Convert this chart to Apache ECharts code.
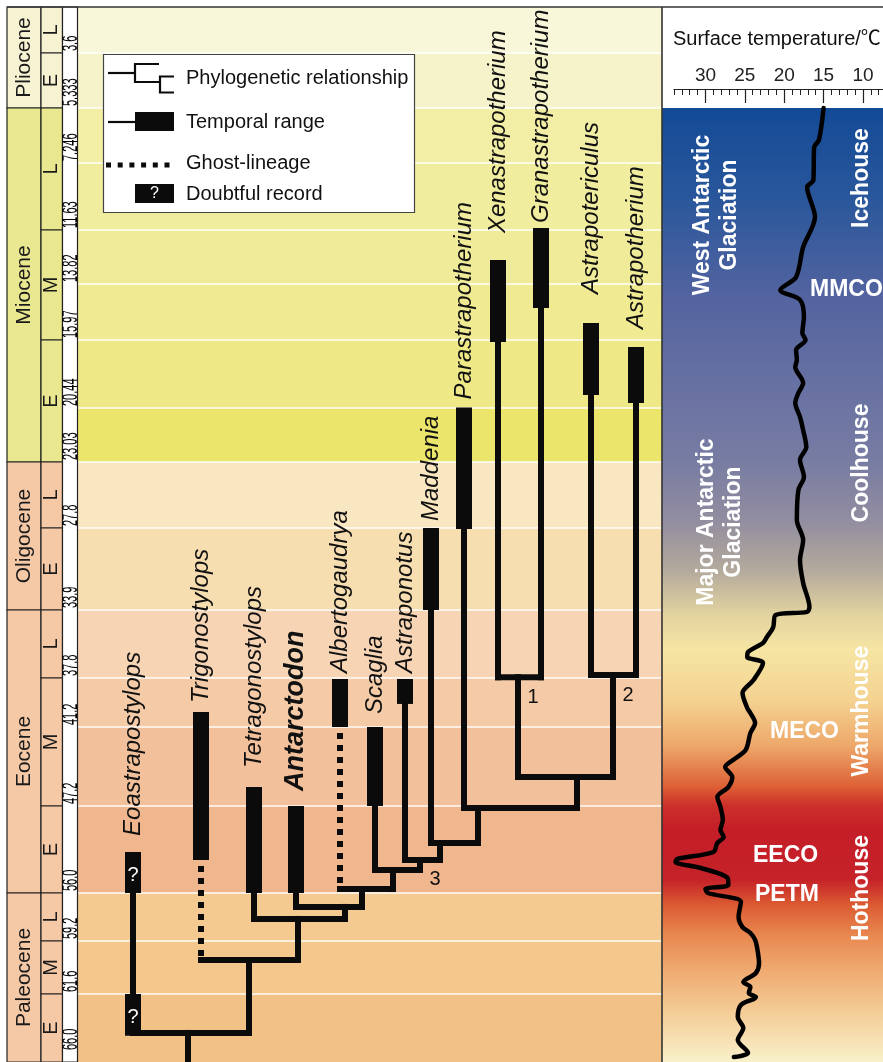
<!DOCTYPE html>
<html><head><meta charset="utf-8">
<script src="https://cdn.jsdelivr.net/npm/echarts@6/dist/echarts.min.js"></script>
<style>html,body{margin:0;padding:0;background:#fff;overflow:hidden}#chart{width:883px;height:1062px}</style>
</head><body><div id="chart"></div>
<script>
// ================= DATA =================
// Geological time scale (Ma)
const stageBoundaries = [2.58, 3.6, 5.333, 7.246, 11.63, 13.82, 15.97, 20.44, 23.03, 27.8, 33.9, 37.8, 41.2, 47.2, 56.0, 59.2, 61.6, 66.0];
const boundaryLabels = ['3.6','5.333','7.246','11.63','13.82','15.97','20.44','23.03','27.8','33.9','37.8','41.2','47.2','56.0','59.2','61.6','66.0'];
const epochNames = ['Pliocene','Miocene','Oligocene','Eocene','Paleocene'];
const epochTop  = [2.58, 5.333, 23.03, 33.9, 56.0];
const epochBase = [5.333, 23.03, 33.9, 56.0, 66.0];
const subEpochNames = ['L','E','L','M','E','L','E','L','M','E','L','M','E'];
const subEpochTop  = [2.58, 3.6, 5.333, 11.63, 15.97, 23.03, 27.8, 33.9, 37.8, 47.2, 56.0, 59.2, 61.6];
const subEpochBase = [3.6, 5.333, 11.63, 15.97, 23.03, 27.8, 33.9, 37.8, 47.2, 56.0, 59.2, 61.6, 66.0];
const subEpochEpoch = [0,0,1,1,1,2,2,3,3,3,4,4,4];

// Taxa and temporal ranges (Ma)
const taxa = ['Eoastrapostylops','Trigonostylops','Tetragonostylops','Antarctodon','Albertogaudrya','Scaglia','Astraponotus','Maddenia','Parastrapotherium','Xenastrapotherium','Granastrapotherium','Astrapotericulus','Astrapotherium'];
const rangeYoung = [null, 40.16, 45.75, 47.2, 37.87, 41.2, 37.87, 27.8, 20.4, 12.85, 11.5, 15.32, 16.43];
const rangeOld   = [null, 52.66, 56.0, 56.0, 41.2, 47.2, 39.6, 33.9, 27.87, 16.1, 14.74, 19.58, 20.11];
const taxonParent = ['root','A','B','C','D','E','F','G','H','N1','N1','N2','N2'];
const ghostLineage = [false, true, false, false, true, false, false, false, false, false, false, false, false];
const boldTaxon = 'Antarctodon';
// Doubtful records
const doubtfulTaxon = [0, 0];
const doubtfulYoung = [51.85, 61.6];
const doubtfulOld   = [56.0, 64.3];

// Internal nodes (divergence ages, Ma)
const nodeIds    = ['root','A','B','C','D','E','F','G','H','I','N1','N2'];
const nodeAges   = [64.12, 60.06, 57.73, 56.93, 55.6, 53.67, 52.66, 50.94, 47.4, 45.0, 37.75, 37.63];
const nodeParent = [null,'root','A','B','C','D','E','F','G','H','I','I'];
const nodeLabels = ['','','','','','','3','','','','1','2'];

// Surface temperature curve
const tempAge = [5.33, 6.45, 6.69, 8.36, 8.82, 10.78, 12.32, 13.54, 14.05, 14.43,
  15.09, 15.70, 15.97, 16.63, 17.28, 17.74, 18.80, 19.45, 20.11, 20.87,
  21.50, 22.31, 22.93, 24.11, 25.05, 27.22, 28.69, 30.18, 31.89, 33.68,
  34.01, 34.19, 34.88, 35.45, 35.79, 36.31, 36.59, 36.94, 37.94, 38.84,
  39.88, 40.23, 40.92, 41.66, 42.95, 43.71, 44.24, 45.00, 45.76, 46.52,
  47.30, 48.62, 49.63, 50.33, 50.94, 51.85, 52.56, 52.86, 53.47, 54.48,
  55.19, 55.60, 56.00, 56.60, 57.60, 58.27, 58.67, 59.13, 59.60, 60.20,
  60.65, 61.06, 61.28, 61.55, 61.80, 62.31, 63.09, 63.80, 64.57, 65.41, 65.68];
const tempValue = [15.0, 15.6, 16.2, 16.3, 17.1, 16.1, 17.6, 18.5, 20.5, 18.0,
  17.5, 17.7, 17.3, 18.5, 18.4, 18.6, 17.6, 18.2, 18.6, 18.0,
  17.6, 17.2, 18.0, 17.5, 18.2, 18.4, 17.6, 18.0, 17.6, 16.8,
  17.1, 21.1, 21.4, 22.2, 22.7, 24.6, 24.7, 22.7, 23.9, 25.3,
  24.7, 24.3, 23.7, 24.3, 24.9, 26.5, 27.5, 26.6, 27.1, 28.5,
  28.1, 27.8, 28.1, 27.7, 28.5, 29.0, 33.6, 33.8, 30.6, 27.2,
  27.1, 30.0, 29.7, 25.5, 25.8, 25.3, 24.3, 23.7, 23.4, 23.2,
  23.6, 25.2, 24.3, 24.5, 23.6, 25.5, 25.9, 25.2, 25.9, 24.6, 26.4];
const tempTicks = [30, 25, 20, 15, 10];
const tempMinorTicks = [8, 9, 10, 11, 12, 13, 14, 15, 16, 17, 18, 19, 20, 21, 22, 23, 24, 25, 26, 27, 28, 29, 30, 31, 32, 33, 34];

// Climate annotations
const climateEvents = ['MMCO','MECO','EECO','PETM'];
const climateEventAge = [14.05, 41.58, 52.26, 56.13];
const climateStates = ['Icehouse','Coolhouse','Warmhouse','Hothouse'];
const climateStateAge = [8.23, 23.1, 40.1, 55.5];
const glaciations = ['West Antarctic\nGlaciation','Major Antarctic\nGlaciation'];
const glaciationAge = [10.65, 27.37];

// Legend texts
const legendTexts = ['Phylogenetic relationship','Temporal range','Ghost-lineage','Doubtful record'];

// ================= LAYOUT / STYLE =================
const FONT = '"Liberation Sans", Arial, Helvetica, "Noto Sans CJK SC", sans-serif';
const INK = '#0b0b0b';
// figure's (non-linear) vertical scale: position of each stage boundary
const SCALE_POS = [0, 46, 101, 156, 223, 277, 333, 401, 455, 521, 603, 671, 720, 799, 886, 934, 987, 1055];
const STAGE_COLORS = ['#F9F7DA','#F6F3CB','#F2EEA6','#F1ED9F','#F0EB99','#F0EA93','#EEE887','#ECE56B',
  '#F8E7C0','#F7DEB0','#F6D4B4','#F5CAA6','#F2C09A','#F0B78F','#F4CA91','#F4C88C','#F2C186'];
const EPOCH_COLORS = ['#F7F3D2','#E9E78F','#F6C9A6','#F6C9A6','#F6C9A6'];
const COL_EPOCH = [0, 34], COL_SUB = [34, 55.5], COL_AGE = [55.5, 70.5], COL_TREE = [70.5, 655], COL_RIGHT = [655, 876];
const TAXON_X = [126, 194, 247, 289, 333, 368, 398, 424, 457, 491, 534, 584, 629];
const NODE_X  = [181, 242, 291, 338, 355, 386, 413, 433, 471, 570, 511, 606];
const LABEL_GAP = [16, 9, 19, 15, 6, 13, 6, 7, 8, 27, 5, 29, 18];
const EVENT_X = [803, 763, 746, 748];
const STATE_X = 855;
const GLAC_X = [709.5, 713];
const LINE_W = 6, BAR_W = 16;

function toPos(age) {
  const n = stageBoundaries.length;
  for (let i = 0; i < n - 1; i++) {
    if (age <= stageBoundaries[i + 1] || i === n - 2) {
      const t = (age - stageBoundaries[i]) / (stageBoundaries[i + 1] - stageBoundaries[i]);
      return SCALE_POS[i] + t * (SCALE_POS[i + 1] - SCALE_POS[i]);
    }
  }
}
function parentAge(pid) {
  return pid === null ? stageBoundaries[stageBoundaries.length - 1] : nodeAges[nodeIds.indexOf(pid)];
}
function childrenX(id) {
  const xs = [];
  taxonParent.forEach((p, i) => { if (p === id) xs.push(TAXON_X[i]); });
  nodeParent.forEach((p, i) => { if (p === id) xs.push(NODE_X[i]); });
  return xs;
}
function txt(text, x, y, o) {
  o = o || {};
  const align = o.align || 'center', va = o.va || 'middle';
  return {
    type: 'text', x: x, y: y, rotation: o.rot || 0, scaleX: o.sx || 1, scaleY: 1, z2: 10,
    style: {
      text: text, fill: o.fill || '#111', fontSize: o.size || 20, fontFamily: FONT,
      fontStyle: o.italic ? 'italic' : 'normal', fontWeight: o.bold ? 'bold' : 'normal',
      align: align, verticalAlign: va, textAlign: align, textVerticalAlign: va,
      lineHeight: o.lh || undefined
    }
  };
}
function rectBetween(api, x0, x1, p0, p1, style) {
  const a = api.coord([x0, p0]), b = api.coord([x1, p1]);
  return { type: 'rect', shape: { x: a[0], y: a[1], width: b[0] - a[0], height: b[1] - a[1] }, style: style };
}
function vline(api, x, p0, p1, style) {
  const a = api.coord([x, p0]), b = api.coord([x, p1]);
  return { type: 'line', shape: { x1: a[0], y1: a[1], x2: b[0], y2: b[1] }, style: style };
}
function hline(api, x0, x1, p, style) {
  const a = api.coord([x0, p]), b = api.coord([x1, p]);
  return { type: 'line', shape: { x1: a[0], y1: a[1], x2: b[0], y2: b[1] }, style: style };
}
const solid = { stroke: INK, lineWidth: LINE_W, lineCap: 'square' };

const base = { type: 'custom', coordinateSystem: 'cartesian2d', xAxisIndex: 0, yAxisIndex: 0, silent: true, animation: false };

const series = [
  // stage bands in the tree panel
  Object.assign({}, base, {
    z: 1,
    data: STAGE_COLORS.map((c, i) => [COL_TREE[0], toPos(stageBoundaries[i])]),
    renderItem: (params, api) => {
      const i = params.dataIndex;
      return rectBetween(api, COL_TREE[0], COL_TREE[1], toPos(stageBoundaries[i]), toPos(stageBoundaries[i + 1]), { fill: STAGE_COLORS[i] });
    }
  }),
  // white stage boundary lines
  Object.assign({}, base, {
    z: 2,
    data: stageBoundaries.slice(1, -1).map(a => [COL_TREE[0], toPos(a)]),
    renderItem: (params, api) => hline(api, COL_TREE[0], COL_TREE[1], toPos(stageBoundaries[params.dataIndex + 1]), { stroke: 'rgba(255,255,255,0.95)', lineWidth: 1.5 })
  }),
  // epoch column
  Object.assign({}, base, {
    z: 3,
    data: epochNames.map((e, i) => [COL_EPOCH[0], toPos(epochTop[i])]),
    renderItem: (params, api) => {
      const i = params.dataIndex;
      const p0 = toPos(epochTop[i]), p1 = toPos(epochBase[i]);
      const c = api.coord([(COL_EPOCH[0] + COL_EPOCH[1]) / 2, (p0 + p1) / 2]);
      return { type: 'group', children: [
        rectBetween(api, COL_EPOCH[0], COL_EPOCH[1], p0, p1, { fill: EPOCH_COLORS[i], stroke: '#222', lineWidth: 1.2 }),
        txt(epochNames[i], c[0], c[1], { rot: Math.PI / 2, size: 21, fill: '#1a1a1a' })
      ] };
    }
  }),
  // sub-epoch column
  Object.assign({}, base, {
    z: 3,
    data: subEpochNames.map((e, i) => [COL_SUB[0], toPos(subEpochTop[i])]),
    renderItem: (params, api) => {
      const i = params.dataIndex;
      const p0 = toPos(subEpochTop[i]), p1 = toPos(subEpochBase[i]);
      const c = api.coord([(COL_SUB[0] + COL_SUB[1]) / 2, (p0 + p1) / 2]);
      return { type: 'group', children: [
        rectBetween(api, COL_SUB[0], COL_SUB[1], p0, p1, { fill: EPOCH_COLORS[subEpochEpoch[i]], stroke: '#222', lineWidth: 1.2 }),
        txt(subEpochNames[i], c[0], c[1], { rot: Math.PI / 2, size: 20, fill: '#1a1a1a' })
      ] };
    }
  }),
  // age column background
  Object.assign({}, base, {
    z: 3,
    data: [[COL_AGE[0], 0]],
    renderItem: (params, api) => rectBetween(api, COL_AGE[0], COL_AGE[1], toPos(stageBoundaries[0]), toPos(stageBoundaries[stageBoundaries.length - 1]), { fill: '#fff', stroke: '#222', lineWidth: 1.2 })
  }),
  // age labels
  Object.assign({}, base, {
    z: 4,
    data: boundaryLabels.map((l, i) => [COL_AGE[0], toPos(stageBoundaries[i + 1])]),
    renderItem: (params, api) => {
      const i = params.dataIndex;
      const p = api.coord([(COL_AGE[0] + COL_AGE[1]) / 2, toPos(stageBoundaries[i + 1])]);
      const y = i === boundaryLabels.length - 1 ? p[1] - 12 : p[1] - 2;
      return txt(boundaryLabels[i], p[0] + 1, y, { rot: Math.PI / 2, sx: 0.5, size: 22, align: 'left', fill: '#000' });
    }
  }),
  // right panel climate background
  Object.assign({}, base, {
    z: 1,
    data: [[COL_RIGHT[0], toPos(5.333)]],
    renderItem: (params, api) => rectBetween(api, COL_RIGHT[0], COL_RIGHT[1], toPos(5.333), toPos(66.0), {
      fill: { type: 'linear', x: 0, y: 0, x2: 0, y2: 1, colorStops: [
        { offset: 0, color: '#134A96' }, { offset: 0.096, color: '#2A579B' }, { offset: 0.2, color: '#5464A0' },
        { offset: 0.285, color: '#6670A2' }, { offset: 0.369, color: '#777CA2' }, { offset: 0.432, color: '#928DA0' },
        { offset: 0.484, color: '#B3A99C' }, { offset: 0.531, color: '#E2D3A0' }, { offset: 0.568, color: '#F6E5A3' },
        { offset: 0.621, color: '#F4D291' }, { offset: 0.668, color: '#EDA86A' }, { offset: 0.71, color: '#DE6336' },
        { offset: 0.731, color: '#CC302A' }, { offset: 0.757, color: '#C41E28' }, { offset: 0.809, color: '#C62229' },
        { offset: 0.835, color: '#DB5A31' }, { offset: 0.867, color: '#E88850' }, { offset: 0.904, color: '#EFAA70' },
        { offset: 0.946, color: '#F3CB95' }, { offset: 1, color: '#F9F1CA' }] }
    })
  }),
  // internal nodes of the tree
  Object.assign({}, base, {
    z: 5,
    data: nodeIds.map((n, i) => [NODE_X[i], toPos(nodeAges[i])]),
    renderItem: (params, api) => {
      const i = params.dataIndex;
      const xs = childrenX(nodeIds[i]);
      const p = toPos(nodeAges[i]);
      const children = [
        hline(api, Math.min.apply(null, xs), Math.max.apply(null, xs), p, solid),
        vline(api, NODE_X[i], p, toPos(parentAge(nodeParent[i])), solid)
      ];
      if (nodeLabels[i]) {
        const c = api.coord([NODE_X[i], p]);
        children.push(txt(nodeLabels[i], c[0] + 15, c[1] + 20, { size: 20 }));
      }
      return { type: 'group', children: children };
    }
  }),
  // terminal taxa: ranges, ghost lineages, doubtful records, names
  Object.assign({}, base, {
    z: 6,
    data: taxa.map((t, i) => [TAXON_X[i], 0]),
    renderItem: (params, api) => {
      const i = params.dataIndex;
      const x = TAXON_X[i];
      const recs = [];
      if (rangeYoung[i] !== null) recs.push([rangeYoung[i], rangeOld[i], false]);
      doubtfulTaxon.forEach((t, k) => { if (t === i) recs.push([doubtfulYoung[k], doubtfulOld[k], true]); });
      recs.sort((a, b) => a[0] - b[0]);
      const top = recs[0][0];
      const stemStart = recs[0][1];
      const pAge = parentAge(taxonParent[i]);
      const children = [];
      if (ghostLineage[i]) {
        children.push(vline(api, x, toPos(stemStart), toPos(pAge), { stroke: INK, lineWidth: LINE_W, lineDash: [6, 6], lineDashOffset: 6, lineCap: 'butt' }));
      } else {
        children.push(vline(api, x, toPos(stemStart), toPos(pAge), solid));
      }
      recs.forEach(r => {
        children.push(rectBetween(api, x - BAR_W / 2, x + BAR_W / 2, toPos(r[0]), toPos(r[1]), { fill: INK }));
        if (r[2]) {
          const c = api.coord([x, (toPos(r[0]) + toPos(r[1])) / 2]);
          children.push(txt('?', c[0], c[1] + 3, { size: 20, fill: '#fff' }));
        }
      });
      const lp = api.coord([x, toPos(top)]);
      const isBold = taxa[i] === boldTaxon;
      children.push(txt(taxa[i], lp[0], lp[1] - LABEL_GAP[i], { rot: Math.PI / 2, align: 'left', italic: true, bold: isBold, size: isBold ? 27 : 24 }));
      return { type: 'group', children: children };
    }
  }),
  // surface temperature curve
  {
    type: 'line', xAxisIndex: 1, yAxisIndex: 1, silent: true, animation: false, z: 7,
    data: tempAge.map((a, i) => [tempValue[i], toPos(a)]),
    symbol: 'none', smooth: 0.3, clip: false,
    lineStyle: { color: '#000', width: 4.5, cap: 'round', join: 'round' }
  },
  // climate event labels
  Object.assign({}, base, {
    z: 8,
    data: climateEvents.map((e, i) => [EVENT_X[i], toPos(climateEventAge[i])]),
    renderItem: (params, api) => {
      const i = params.dataIndex;
      const c = api.coord([EVENT_X[i], toPos(climateEventAge[i])]);
      return txt(climateEvents[i], c[0], c[1], { align: 'left', bold: true, size: 23, fill: '#fff' });
    }
  }),
  // climate state labels
  Object.assign({}, base, {
    z: 8,
    data: climateStates.map((e, i) => [STATE_X, toPos(climateStateAge[i])]),
    renderItem: (params, api) => {
      const i = params.dataIndex;
      const c = api.coord([STATE_X, toPos(climateStateAge[i])]);
      return txt(climateStates[i], c[0], c[1], { rot: Math.PI / 2, bold: true, size: 23, fill: '#fff' });
    }
  }),
  // glaciation labels
  Object.assign({}, base, {
    z: 8,
    data: glaciations.map((e, i) => [GLAC_X[i], toPos(glaciationAge[i])]),
    renderItem: (params, api) => {
      const i = params.dataIndex;
      const c = api.coord([GLAC_X[i], toPos(glaciationAge[i])]);
      return txt(glaciations[i], c[0], c[1], { rot: Math.PI / 2, bold: true, size: 23, fill: '#fff', lh: 27 });
    }
  })
];

const legendLine = { stroke: INK, lineWidth: 2.2, fill: null };
const graphic = [
  { type: 'line', z: 50, shape: { x1: 7, y1: 7, x2: 883, y2: 7 }, style: { stroke: '#333', lineWidth: 1.5 } },
  { type: 'line', z: 50, shape: { x1: 662, y1: 7, x2: 662, y2: 1062 }, style: { stroke: '#333', lineWidth: 1.6 } },
  { type: 'text', z: 50, x: 673, y: 39, style: { text: 'Surface temperature/℃', fill: '#111', fontSize: 20, fontFamily: FONT, align: 'left', verticalAlign: 'middle', textAlign: 'left', textVerticalAlign: 'middle' } },
  // legend
  { type: 'rect', z: 60, shape: { x: 103.5, y: 54.5, width: 311, height: 158 }, style: { fill: '#fff', stroke: '#444', lineWidth: 1.2 } },
  { type: 'polyline', z: 61, shape: { points: [[108, 73], [135, 73]] }, style: legendLine },
  { type: 'polyline', z: 61, shape: { points: [[159, 64], [135, 64], [135, 82], [160, 82]] }, style: legendLine },
  { type: 'polyline', z: 61, shape: { points: [[174, 76.5], [160, 76.5], [160, 92.5], [174, 92.5]] }, style: legendLine },
  { type: 'polyline', z: 61, shape: { points: [[108, 122], [135, 122]] }, style: legendLine },
  { type: 'rect', z: 61, shape: { x: 135, y: 112, width: 39, height: 19 }, style: { fill: INK } },
  { type: 'polyline', z: 61, shape: { points: [[106, 165], [172, 165]] }, style: { stroke: INK, lineWidth: 5, lineDash: [5, 6.7], fill: null } },
  { type: 'rect', z: 61, shape: { x: 135, y: 184, width: 39, height: 19 }, style: { fill: INK } },
  { type: 'text', z: 62, x: 154.5, y: 194, style: { text: '?', fill: '#fff', fontSize: 16, fontFamily: FONT, align: 'center', verticalAlign: 'middle', textAlign: 'center', textVerticalAlign: 'middle' } }
].concat(legendTexts.map((t, i) => ({
  type: 'text', z: 62, x: 186, y: [78, 122, 163, 194][i],
  style: { text: t, fill: '#111', fontSize: 20, fontFamily: FONT, align: 'left', verticalAlign: 'middle', textAlign: 'left', textVerticalAlign: 'middle' }
})));

const chart = echarts.init(document.getElementById('chart'), null, { renderer: 'canvas', width: 883, height: 1062 });
chart.setOption({
  animation: false,
  backgroundColor: '#fff',
  grid: [
    { left: 7, top: 7, width: 876, height: 1055 },
    { left: 674, top: 89, width: 209, height: 973 }
  ],
  xAxis: [
    { type: 'value', gridIndex: 0, min: 0, max: 876, show: false },
    { type: 'value', gridIndex: 1, min: 7.46, max: 34, inverse: true, position: 'top',
      axisLine: { show: true, onZero: false, lineStyle: { color: '#222', width: 1.2 } },
      axisTick: { show: true, inside: true, length: 14, customValues: tempTicks, lineStyle: { color: '#222', width: 1.2 } },
      axisLabel: { show: true, margin: 4, fontSize: 19, color: '#222', fontFamily: FONT, customValues: tempTicks },
      splitLine: { show: false } },
    { type: 'value', gridIndex: 1, min: 7.46, max: 34, inverse: true, position: 'top',
      axisLine: { show: false },
      axisTick: { show: true, inside: true, length: 6, customValues: tempMinorTicks, lineStyle: { color: '#222', width: 1 } },
      axisLabel: { show: false },
      splitLine: { show: false } }
  ],
  yAxis: [
    { type: 'value', gridIndex: 0, min: 0, max: 1055, inverse: true, show: false },
    { type: 'value', gridIndex: 1, min: 82, max: 1055, inverse: true, show: false }
  ],
  graphic: { elements: graphic },
  series: series
});
</script></body></html>
